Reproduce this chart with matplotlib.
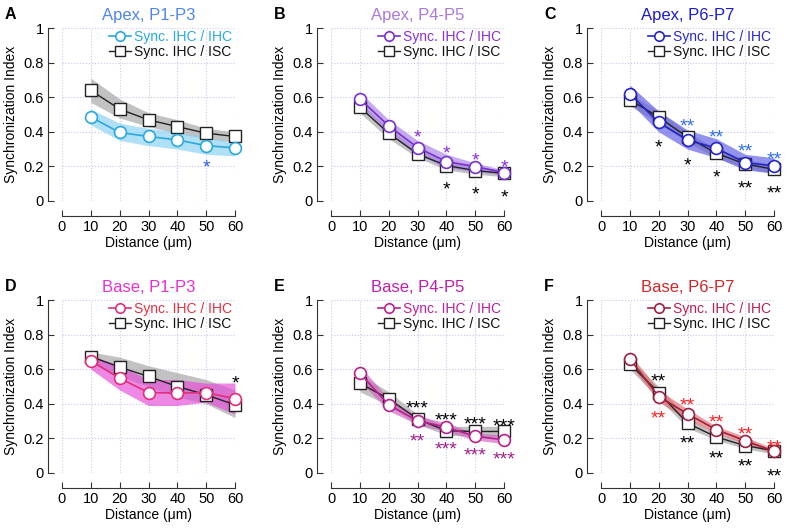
import matplotlib
matplotlib.use("Agg")
import matplotlib.pyplot as plt
from matplotlib.transforms import offset_copy

plt.rcParams['font.family'] = ['Liberation Sans', 'DejaVu Sans']

dist = [10, 20, 30, 40, 50, 60]

# panel titles / letters
letters = ['A', 'B', 'C', 'D', 'E', 'F']
titles = ['Apex, P1-P3', 'Apex, P4-P5', 'Apex, P6-P7',
          'Base, P1-P3', 'Base, P4-P5', 'Base, P6-P7']

# Sync. IHC / IHC  (mean, lower, upper)
ihc_A = [0.485, 0.396, 0.373, 0.353, 0.320, 0.307]
ihc_A_lo = [0.44, 0.35, 0.32, 0.30, 0.27, 0.26]
ihc_A_hi = [0.53, 0.45, 0.42, 0.40, 0.37, 0.34]
ihc_B = [0.590, 0.434, 0.309, 0.228, 0.199, 0.164]
ihc_B_lo = [0.55, 0.40, 0.27, 0.19, 0.17, 0.15]
ihc_B_hi = [0.63, 0.47, 0.35, 0.27, 0.22, 0.18]
ihc_C = [0.620, 0.454, 0.353, 0.305, 0.222, 0.203]
ihc_C_lo = [0.57, 0.40, 0.30, 0.25, 0.18, 0.16]
ihc_C_hi = [0.67, 0.52, 0.41, 0.36, 0.27, 0.25]
ihc_D = [0.648, 0.548, 0.465, 0.462, 0.465, 0.429]
ihc_D_lo = [0.60, 0.48, 0.39, 0.39, 0.41, 0.34]
ihc_D_hi = [0.68, 0.62, 0.54, 0.54, 0.52, 0.52]
ihc_E = [0.577, 0.394, 0.302, 0.265, 0.212, 0.192]
ihc_E_lo = [0.53, 0.36, 0.28, 0.24, 0.19, 0.17]
ihc_E_hi = [0.62, 0.43, 0.33, 0.29, 0.23, 0.22]
ihc_F = [0.660, 0.442, 0.342, 0.250, 0.187, 0.125]
ihc_F_lo = [0.63, 0.41, 0.31, 0.23, 0.17, 0.11]
ihc_F_hi = [0.69, 0.48, 0.37, 0.27, 0.21, 0.14]

# Sync. IHC / ISC
isc_A = [0.639, 0.531, 0.469, 0.430, 0.392, 0.373]
isc_A_lo = [0.57, 0.48, 0.43, 0.39, 0.36, 0.34]
isc_A_hi = [0.71, 0.59, 0.51, 0.47, 0.42, 0.40]
isc_B = [0.542, 0.392, 0.272, 0.205, 0.176, 0.160]
isc_B_lo = [0.51, 0.36, 0.25, 0.18, 0.155, 0.14]
isc_B_hi = [0.57, 0.42, 0.30, 0.23, 0.20, 0.18]
isc_C = [0.585, 0.485, 0.369, 0.276, 0.214, 0.183]
isc_C_lo = [0.55, 0.45, 0.34, 0.25, 0.19, 0.16]
isc_C_hi = [0.62, 0.52, 0.40, 0.30, 0.24, 0.21]
isc_D = [0.673, 0.612, 0.558, 0.500, 0.452, 0.394]
isc_D_lo = [0.64, 0.56, 0.50, 0.44, 0.40, 0.32]
isc_D_hi = [0.70, 0.67, 0.62, 0.58, 0.54, 0.48]
isc_E = [0.519, 0.429, 0.312, 0.244, 0.240, 0.240]
isc_E_lo = [0.47, 0.39, 0.28, 0.22, 0.21, 0.21]
isc_E_hi = [0.57, 0.47, 0.34, 0.27, 0.27, 0.27]
isc_F = [0.631, 0.465, 0.288, 0.208, 0.158, 0.129]
isc_F_lo = [0.60, 0.43, 0.26, 0.19, 0.14, 0.11]
isc_F_hi = [0.66, 0.50, 0.32, 0.23, 0.18, 0.14]

# significance marks: (distance, y, text), coloured and black
stars_col_A = [(50, 0.228, '*')]
stars_blk_A = []
stars_col_B = [(30, 0.40, '*'), (40, 0.305, '*'), (50, 0.266, '*'), (60, 0.228, '*')]
stars_blk_B = [(40, 0.10, '*'), (50, 0.073, '*'), (60, 0.054, '*')]
stars_col_C = [(30, 0.465, '**'), (40, 0.40, '**'), (50, 0.32, '**'), (60, 0.272, '**')]
stars_blk_C = [(20, 0.344, '*'), (30, 0.237, '*'), (40, 0.17, '*'), (50, 0.106, '**'), (60, 0.079, '**')]
stars_col_D = []
stars_blk_D = [(60, 0.548, '*')]
stars_col_E = [(30, 0.217, '**'), (40, 0.169, '***'), (50, 0.135, '***'), (60, 0.112, '***')]
stars_blk_E = [(30, 0.408, '***'), (40, 0.337, '***'), (50, 0.312, '***'), (60, 0.302, '***')]
stars_col_F = [(20, 0.346, '**'), (30, 0.423, '**'), (40, 0.327, '**'), (50, 0.254, '**'), (60, 0.183, '**')]
stars_blk_F = [(20, 0.563, '**'), (30, 0.202, '**'), (40, 0.119, '**'), (50, 0.073, '**'), (60, 0.015, '**')]

# colours per panel: title, line, band, legend text, stars
title_col = ['#4f86ee', '#a878e0', '#1a1ad8', '#e830d0', '#c01fae', '#d02828']
line_col = ['#2aa8e0', '#7a2fd0', '#2424c8', '#e0307a', '#b8208f', '#a02040']
band_col = ['#86d0f2', '#a77de8', '#5a5ae6', '#e648d8', '#d060c0', '#e46a6a']
leg_col = ['#29a9e0', '#8a30d8', '#2828cc', '#e83040', '#c0209a', '#c02050']
star_col = ['#2a5ef0', '#8a2be2', '#2f6ff0', '#e830d0', '#a0208a', '#ff2020']

ihc = [ihc_A, ihc_B, ihc_C, ihc_D, ihc_E, ihc_F]
ihc_lo = [ihc_A_lo, ihc_B_lo, ihc_C_lo, ihc_D_lo, ihc_E_lo, ihc_F_lo]
ihc_hi = [ihc_A_hi, ihc_B_hi, ihc_C_hi, ihc_D_hi, ihc_E_hi, ihc_F_hi]
isc = [isc_A, isc_B, isc_C, isc_D, isc_E, isc_F]
isc_lo = [isc_A_lo, isc_B_lo, isc_C_lo, isc_D_lo, isc_E_lo, isc_F_lo]
isc_hi = [isc_A_hi, isc_B_hi, isc_C_hi, isc_D_hi, isc_E_hi, isc_F_hi]
stars_col = [stars_col_A, stars_col_B, stars_col_C, stars_col_D, stars_col_E, stars_col_F]
stars_blk = [stars_blk_A, stars_blk_B, stars_blk_C, stars_blk_D, stars_blk_E, stars_blk_F]

fig = plt.figure(figsize=(7.87, 5.30), dpi=100)

lefts = [62 / 787, 331 / 787, 601 / 787]
bottoms = [(530 - 201) / 530, (530 - 473) / 530]
w = 173 / 787
h = 173 / 530
star_fs = 14

for i in range(6):
    r, c = divmod(i, 3)
    ax = fig.add_axes([lefts[c], bottoms[r], w, h])
    ax.set_xlim(0, 60)
    ax.set_ylim(0, 1)

    # grid
    ax.grid(True, color='#c8c8f2', linestyle=':', linewidth=0.8)
    ax.set_axisbelow(True)

    # bands
    ax.fill_between(dist, isc_lo[i], isc_hi[i], color='#9a9a9a', alpha=0.6, lw=0, zorder=2)
    ax.fill_between(dist, ihc_lo[i], ihc_hi[i], color=band_col[i], alpha=0.65, lw=0, zorder=3)

    # lines
    l2, = ax.plot(dist, isc[i], color='#222222', lw=1.0, marker='s', ms=8.5,
                  mfc='white', mec='#222222', mew=1.0, zorder=4, clip_on=False,
                  label='Sync. IHC / ISC')
    l1, = ax.plot(dist, ihc[i], color=line_col[i], lw=1.2, marker='o', ms=8.5,
                  mfc='white', mec=line_col[i], mew=1.2, zorder=5, clip_on=False,
                  label='Sync. IHC / IHC')

    # asterisk glyph sits high in the line, so anchor at baseline and shift down
    star_tr = offset_copy(ax.transData, fig=fig, x=0, y=-0.55 * star_fs, units='points')
    for x, y, s in stars_col[i]:
        ax.text(x, y, s, color=star_col[i], fontsize=star_fs, ha='center', va='baseline',
                transform=star_tr, zorder=6, clip_on=False)
    for x, y, s in stars_blk[i]:
        ax.text(x, y, s, color='black', fontsize=star_fs, ha='center', va='baseline',
                transform=star_tr, zorder=6, clip_on=False)

    leg = ax.legend(handles=[l1, l2], loc='upper right', frameon=False, fontsize=10,
                    handlelength=1.6, handletextpad=0.2, borderaxespad=0.1,
                    labelspacing=0.1, markerscale=0.8, bbox_to_anchor=(1.02, 1.03))
    leg.get_texts()[0].set_color(leg_col[i])
    leg.get_texts()[1].set_color('#111111')

    # Igor-like detached axes
    for s in ['top', 'right']:
        ax.spines[s].set_visible(False)
    ax.spines['left'].set_position(('outward', 10))
    ax.spines['bottom'].set_position(('outward', 11))
    ax.spines['left'].set_color('#333333')
    ax.spines['bottom'].set_color('#333333')
    ax.tick_params(direction='in', length=4, color='#333333', labelsize=10.5, pad=3)
    ax.set_xticks([0, 10, 20, 30, 40, 50, 60])
    ax.set_yticks([0, 0.2, 0.4, 0.6, 0.8, 1])
    ax.set_yticklabels(['0', '0.2', '0.4', '0.6', '0.8', '1'])
    ax.set_xlabel('Distance (\u03bcm)', fontsize=10, labelpad=1)
    ax.set_ylabel('Synchronization Index', fontsize=10, labelpad=4)

    ax.set_title(titles[i], color=title_col[i], fontsize=12, pad=6)
    ax.text(-0.33, 1.08, letters[i], transform=ax.transAxes, fontsize=11.5,
            fontweight='bold', ha='left', va='center')

fig.savefig('out.png', dpi=100)
